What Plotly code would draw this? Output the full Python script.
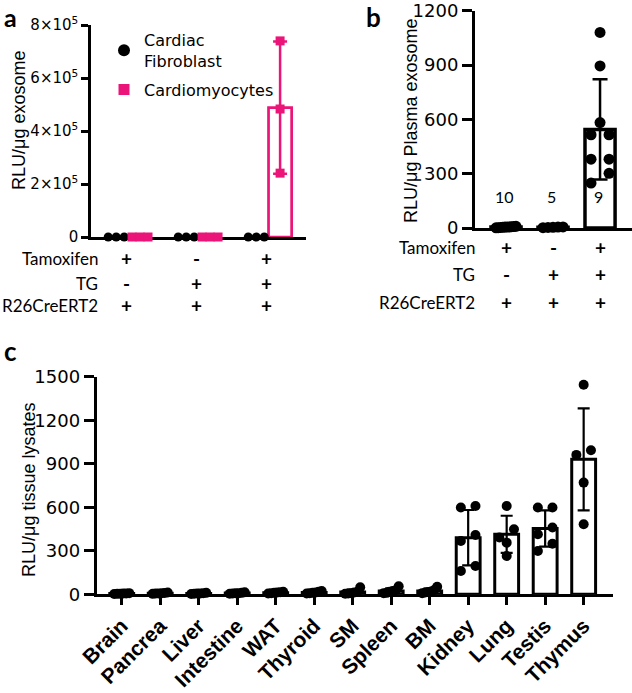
import numpy as np
import plotly.graph_objects as go

# ---------------- data ----------------
# panel a
a_tamoxifen = ["+", "-", "+"]
a_tg = ["-", "+", "+"]
a_r26 = ["+", "+", "+"]
a_fibroblast = [[0, 0, 0], [0, 0, 0], [0, 0, 0]]
a_cardiomyocytes = [[0, 0, 0], [0, 0, 0], [740000, 483000, 241000]]
a_yticks = [0, 200000, 400000, 600000, 800000]
a_yticktext = ["0", "2×10<sup>5</sup>", "4×10<sup>5</sup>", "6×10<sup>5</sup>", "8×10<sup>5</sup>"]

# panel b
b_tamoxifen = ["+", "-", "+"]
b_tg = ["-", "+", "+"]
b_r26 = ["+", "+", "+"]
b_values = [
    [4, 7, 2, 9, 5, 3, 6, 8, 1, 5],
    [3, 6, 2, 5, 4],
    [1080, 895, 582, 515, 515, 380, 380, 302, 248],
]
b_yticks = [0, 300, 600, 900, 1200]

# panel c
c_tissues = ["Brain", "Pancrea", "Liver", "Intestine", "WAT", "Thyroid", "SM",
             "Spleen", "BM", "Kidney", "Lung", "Testis", "Thymus"]
c_values = [
    [3, 6, 2, 8, 4, 5],
    [5, 9, 3, 12, 7, 6],
    [4, 8, 2, 10, 6, 5],
    [6, 10, 4, 14, 8, 7],
    [8, 14, 5, 18, 10, 12],
    [10, 18, 6, 22, 12, 8],
    [48, 12, 4, 8, 15, 6],
    [55, 28, 10, 18, 8, 22],
    [52, 30, 15, 8, 20, 12],
    [598, 609, 368, 409, 161, 195],
    [609, 391, 448, 356, 264],
    [598, 598, 414, 460, 349, 299],
    [1444, 961, 993, 770, 483],
]
c_yticks = [0, 300, 600, 900, 1200, 1500]

PINK = "#EB1478"
W, H = 632, 693
ARIAL = "Liberation Sans"
TICKF = "DejaVu Sans"
CAL = "Lato"


def px(x):
    return x / W


def py(y):
    return 1 - y / H


def swarm(vals, px_per_y, px_per_x, d_px, s_px, w_px):
    n = len(vals)
    order = sorted(range(n), key=lambda i: -vals[i])
    rows = []
    for i in order:
        if rows and (vals[rows[-1][0]] - vals[i]) * px_per_y < d_px:
            rows[-1].append(i)
        else:
            rows.append([i])
    offs = [0.0] * n
    for row in rows:
        rs = sorted(row, key=lambda i: vals[i])
        m = len(rs)
        step = s_px if m <= 1 else min(s_px, w_px / (m - 1))
        for k, i in enumerate(rs):
            offs[i] = (k - (m - 1) / 2) * step / px_per_x
    return offs


# axis geometry (pixels)
A_X0, A_X1, A_Y0, A_Y1 = 91, 306, 237, 25
A_XR = [-0.53, 2.54]
A_YR = [0, 800000]
B_X0, B_X1, B_Y0, B_Y1 = 475, 632, 228, 10.7
B_XR = [-0.66, 2.68]
B_YR = [0, 1200]
C_X0, C_X1, C_Y0, C_Y1 = 96.7, 613.3, 594.3, 376.7
C_XR = [-0.65, 12.77]
C_YR = [0, 1500]

a_ppx = (A_X1 - A_X0) / (A_XR[1] - A_XR[0])
a_ppy = (A_Y0 - A_Y1) / (A_YR[1] - A_YR[0])
b_ppx = (B_X1 - B_X0) / (B_XR[1] - B_XR[0])
b_ppy = (B_Y0 - B_Y1) / (B_YR[1] - B_YR[0])
c_ppx = (C_X1 - C_X0) / (C_XR[1] - C_XR[0])
c_ppy = (C_Y0 - C_Y1) / (C_YR[1] - C_YR[0])

fig = go.Figure(layout=dict(template="none"))

# ---------------- panel a ----------------
OFF = 0.17
groups_a = list(range(len(a_tamoxifen)))
for series, color, sym, sign in [(a_fibroblast, "black", "circle", -1),
                                 (a_cardiomyocytes, PINK, "square", 1)]:
    means = [float(np.mean(v)) for v in series]
    sds = [float(np.std(v, ddof=1)) for v in series]
    fig.add_trace(go.Bar(
        x=[g + sign * OFF for g in groups_a], y=means, width=0.33,
        marker=dict(color="white", line=dict(color=color, width=2.7)),
        error_y=dict(type="data", array=sds, color=color, thickness=2.5, width=7),
        xaxis="x", yaxis="y", showlegend=False, hoverinfo="skip"))
    xs, ys = [], []
    for g, v in zip(groups_a, series):
        offs = swarm(v, a_ppy, a_ppx, 8, 8, 16)
        xs += [g + sign * OFF + o for o in offs]
        ys += list(v)
    fig.add_trace(go.Scatter(
        x=xs, y=ys, mode="markers", cliponaxis=False,
        marker=dict(symbol=sym, size=9, color=color, line=dict(width=0)),
        xaxis="x", yaxis="y", showlegend=False, hoverinfo="skip"))

# legend-only entries
fig.add_trace(go.Scatter(x=[None], y=[None], mode="markers", name="Cardiac<br>Fibroblast",
                         marker=dict(symbol="circle", size=12, color="black"),
                         xaxis="x", yaxis="y", legendgroup="g1"))
fig.add_trace(go.Scatter(x=[None], y=[None], mode="markers", name="Cardiomyocytes",
                         marker=dict(symbol="square", size=11, color=PINK),
                         xaxis="x", yaxis="y", legendgroup="g2"))

# ---------------- panel b ----------------
groups_b = list(range(len(b_values)))
b_means = [float(np.mean(v)) for v in b_values]
b_sds = [float(np.std(v, ddof=1)) for v in b_values]
fig.add_trace(go.Bar(
    x=groups_b, y=b_means, width=0.64,
    marker=dict(color="white", line=dict(color="black", width=3.5)),
    error_y=dict(type="data", array=b_sds, color="black", thickness=2.5, width=7.5),
    xaxis="x2", yaxis="y2", showlegend=False, hoverinfo="skip"))
xs, ys = [], []
for g, v in zip(groups_b, b_values):
    offs = swarm(v, b_ppy, b_ppx, 11, 18, 20)
    xs += [g + o for o in offs]
    ys += list(v)
fig.add_trace(go.Scatter(
    x=xs, y=ys, mode="markers", cliponaxis=False,
    marker=dict(symbol="circle", size=11, color="black"),
    xaxis="x2", yaxis="y2", showlegend=False, hoverinfo="skip"))

# ---------------- panel c ----------------
groups_c = list(range(len(c_tissues)))
c_means = [float(np.mean(v)) for v in c_values]
c_sds = [float(np.std(v, ddof=1)) for v in c_values]
fig.add_trace(go.Bar(
    x=groups_c, y=c_means, width=0.62,
    marker=dict(color="white", line=dict(color="black", width=3)),
    error_y=dict(type="data", array=c_sds, color="black", thickness=2.2, width=6),
    xaxis="x3", yaxis="y3", showlegend=False, hoverinfo="skip"))
xs, ys = [], []
for g, v in zip(groups_c, c_values):
    offs = swarm(v, c_ppy, c_ppx, 10, 14.6, 15)
    xs += [g + o for o in offs]
    ys += list(v)
fig.add_trace(go.Scatter(
    x=xs, y=ys, mode="markers", cliponaxis=False,
    marker=dict(symbol="circle", size=10, color="black"),
    xaxis="x3", yaxis="y3", showlegend=False, hoverinfo="skip"))

# ---------------- layout ----------------
axis_common = dict(showline=True, linecolor="black", showgrid=False, zeroline=False,
                   automargin=False, tickcolor="black")

annotations = []


def ann(text, x, y, size, family=ARIAL, xref="paper", xanchor="center", angle=0, bold=False):
    annotations.append(dict(
        text=f"<b>{text}</b>" if bold else text, x=x, y=y, xref=xref, yref="paper",
        xanchor=xanchor, yanchor="middle", showarrow=False, textangle=angle,
        font=dict(family=family, size=size, color="black")))


# panel letters
ann("a", px(10), py(17), 25, family=CAL, bold=True)
ann("b", px(373), py(17), 26, family=CAL, bold=True)
ann("c", px(10), py(351), 26, family=CAL, bold=True)

# y titles
ann("RLU/μg exosome", px(19), py(121), 18, angle=-90)
ann("RLU/μg Plasma exosome", px(411), py(121), 18, angle=-90)
ann("RLU/μg tissue lysates", px(29), py(490), 18, angle=-90)

# condition table a
for label, signs, yy in [("Tamoxifen", a_tamoxifen, 258), ("TG", a_tg, 283), ("R26CreERT2", a_r26, 306)]:
    ann(label, px(100), py(yy), 17, family=CAL, xanchor="right")
    for g, s in zip(groups_a, signs):
        ann(s, g - 0.03, py(yy), 19, family=CAL, xref="x", bold=True)

# condition table b
for label, signs, yy in [("Tamoxifen", b_tamoxifen, 247), ("TG", b_tg, 274), ("R26CreERT2", b_r26, 302)]:
    ann(label, px(477), py(yy), 17, family=CAL, xanchor="right")
    for g, s in zip(groups_b, signs):
        ann(s, g, py(yy), 19, family=CAL, xref="x2", bold=True)

# n labels in b
for g, v in zip(groups_b, b_values):
    ann(str(len(v)), g - 0.03, py(197), 16, family=CAL, xref="x2")

fig.update_layout(
    width=W, height=H, margin=dict(l=0, r=0, t=0, b=0, autoexpand=False),
    paper_bgcolor="white", plot_bgcolor="white",
    barmode="overlay",
    showlegend=True,
    legend=dict(x=px(104), y=py(23), xanchor="left", yanchor="top",
                font=dict(family=TICKF, size=16, color="black"),
                bgcolor="rgba(0,0,0,0)", tracegroupgap=5, traceorder="grouped"),
    annotations=annotations,
    xaxis=dict(domain=[px(A_X0), px(A_X1)], range=A_XR, anchor="y", showticklabels=False,
               ticks="", linewidth=2.5, layer="below traces", **axis_common),
    yaxis=dict(domain=[py(A_Y0), py(A_Y1)], range=A_YR, anchor="x", tickvals=a_yticks,
               ticktext=a_yticktext, ticks="outside", ticklen=7, tickwidth=2.5, linewidth=2.5,
               tickfont=dict(family=TICKF, size=15, color="black"), **axis_common),
    xaxis2=dict(domain=[px(B_X0), px(B_X1)], range=B_XR, anchor="y2", showticklabels=False,
                ticks="", linewidth=3, layer="below traces", **axis_common),
    yaxis2=dict(domain=[py(B_Y0), py(B_Y1)], range=B_YR, anchor="x2", tickvals=b_yticks,
                ticks="outside", ticklen=10, tickwidth=3, linewidth=3,
                tickfont=dict(family=TICKF, size=18, color="black"), **axis_common),
    xaxis3=dict(domain=[px(C_X0), px(C_X1)], range=C_XR, anchor="y3", tickvals=groups_c,
                ticktext=c_tissues, tickangle=-45, ticks="outside", ticklen=8, tickwidth=3,
                linewidth=3, layer="below traces",
                tickfont=dict(family=ARIAL, size=21, color="black", weight="bold"), **axis_common),
    yaxis3=dict(domain=[py(C_Y0), py(C_Y1)], range=C_YR, anchor="x3", tickvals=c_yticks,
                ticks="outside", ticklen=10, tickwidth=3, linewidth=3,
                tickfont=dict(family=TICKF, size=18, color="black"), **axis_common),
)

fig.write_html("out.html", config={"displayModeBar": False},
               post_script="document.body.style.margin='0px';")
